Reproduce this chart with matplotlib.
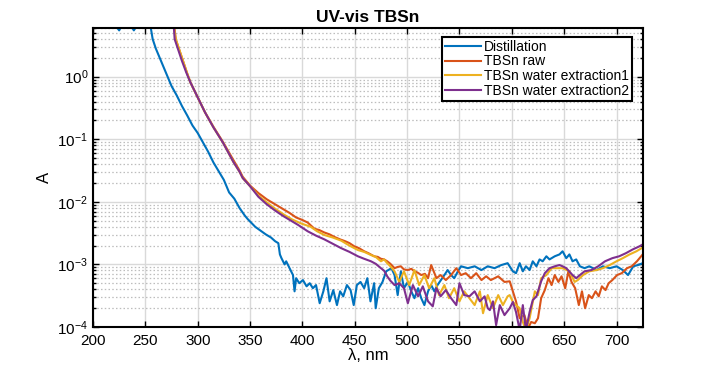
import numpy as np
import matplotlib
matplotlib.use('Agg')
import matplotlib.pyplot as plt
from matplotlib.ticker import LogLocator, NullFormatter, MultipleLocator

plt.rcParams['font.family'] = ['Liberation Sans', 'DejaVu Sans']
plt.rcParams['mathtext.fontset'] = 'custom'
plt.rcParams['mathtext.rm'] = 'Liberation Sans'
plt.rcParams['mathtext.it'] = 'Liberation Sans:italic'

# wavelength (nm) and log10(absorbance)
dist_nm = [220, 225, 230, 235, 239, 245, 250, 255, 257, 260, 264, 270, 275, 280, 285, 290, 295, 300,
           305, 310, 315, 320, 325, 330, 335, 340, 345, 348, 355, 360, 365, 370, 374, 377, 378.5, 380,
           383, 384.5, 387.7, 391, 392.5, 394, 397, 400.5, 404, 407, 410, 413, 416.5, 420, 423, 426,
           429.5, 433, 436, 439, 442.5, 446, 449, 452, 455.5, 459, 462, 465, 468.5, 470, 473, 476.5,
           480, 485, 488, 491, 494, 497, 500.7, 504, 507, 510.5, 513.5, 516.5, 520, 523, 526, 529,
           535.6, 538.7, 542, 545, 548.5, 551.5, 558, 564.5, 571, 577, 583.5, 590, 596, 601, 604,
           607.5, 610.5, 613.5, 617, 620, 623.5, 626.5, 629.5, 633, 636, 641, 645.5, 648.5, 652, 655,
           658, 661.5, 665, 669.5, 674, 681, 687, 693.5, 700, 706, 711, 716, 720.5, 725]
dist_log = [0.85, 0.74, 0.9, 0.85, 0.74, 0.9, 0.9, 0.8, 0.6, 0.45, 0.29, 0.05, -0.15, -0.30, -0.47,
            -0.62, -0.78, -0.90, -1.05, -1.20, -1.37, -1.51, -1.65, -1.85, -1.95, -2.10, -2.22, -2.28,
            -2.40, -2.46, -2.52, -2.57, -2.63, -2.66, -2.84, -2.90, -3.00, -2.95, -3.06, -3.17, -3.43,
            -3.22, -3.30, -3.25, -3.35, -3.30, -3.38, -3.33, -3.62, -3.43, -3.22, -3.59, -3.41, -3.65,
            -3.43, -3.51, -3.33, -3.41, -3.65, -3.33, -3.28, -3.38, -3.22, -3.59, -3.30, -3.70, -3.38,
            -3.28, -3.11, -3.06, -3.17, -3.49, -3.11, -3.38, -3.28, -3.43, -3.54, -3.38, -3.54, -3.65,
            -3.43, -3.33, -3.43, -3.33, -3.17, -3.09, -3.17, -3.22, -3.11, -3.03, -3.06, -3.03, -3.09,
            -3.03, -3.06, -3.01, -2.98, -3.11, -3.14, -2.98, -3.11, -3.03, -3.09, -2.95, -3.03, -2.92,
            -2.95, -2.87, -2.92, -2.87, -2.84, -2.79, -2.90, -2.84, -2.95, -2.92, -3.03, -3.06, -3.03,
            -3.09, -3.03, -3.06, -3.03, -3.09, -3.17, -3.03, -3.01, -2.98]

raw_nm = [270, 276, 278, 279, 282, 286, 290, 293, 300, 307, 315, 324, 334, 340, 343, 350, 358, 366,
          374, 382, 388, 394, 400, 405, 411.5, 416, 421, 426, 430.5, 436, 441, 445, 449.5, 454, 459,
          463, 468.5, 472, 475, 478, 481, 484, 488, 491, 494, 497, 500.7, 504, 507, 510, 513.5, 517,
          520, 523, 528, 532, 537, 542, 547, 551.5, 556, 561, 566, 571, 575.5, 580, 587, 593, 598,
          601, 604, 607.5, 612, 615.5, 618.5, 622, 625, 628, 631.5, 635, 638, 641, 644.5, 647.5,
          651, 654, 657, 660.5, 664, 667, 670, 673.5, 676.5, 680, 683, 686, 689.5, 692.5, 696,
          700.5, 705, 710, 714.5, 719.5, 725]
raw_log = [0.9, 0.85, 0.75, 0.6, 0.45, 0.25, 0.05, -0.09, -0.33, -0.57, -0.80, -1.04, -1.33, -1.50,
           -1.60, -1.74, -1.86, -1.96, -2.04, -2.12, -2.18, -2.25, -2.29, -2.33, -2.43, -2.45, -2.49,
           -2.52, -2.56, -2.60, -2.63, -2.66, -2.71, -2.74, -2.79, -2.82, -2.87, -2.88, -2.91, -2.92,
           -2.95, -2.99, -3.06, -3.04, -3.03, -3.08, -3.09, -3.07, -3.11, -3.13, -3.17, -3.15, -3.22,
           -3.01, -3.22, -3.17, -3.25, -3.17, -3.06, -3.17, -3.14, -3.22, -3.14, -3.25, -3.19, -3.25,
           -3.19, -3.28, -3.27, -3.43, -3.59, -3.86, -3.81, -4.02, -3.92, -3.94, -3.86, -3.54, -3.41,
           -3.22, -3.33, -3.17, -3.28, -3.19, -3.38, -3.11, -3.28, -3.38, -3.65, -3.43, -3.70, -3.49,
           -3.54, -3.43, -3.51, -3.35, -3.41, -3.30, -3.25, -3.17, -3.14, -3.06, -3.03, -2.95, -2.84]

ext1_nm = [270, 277, 279, 282, 286, 290, 293, 300, 307, 315, 324, 334, 340, 343, 350, 358, 366, 374,
           382, 390, 398, 408, 414, 421, 429, 437, 445, 453, 459, 465.5, 470, 475, 478, 481, 484, 488,
           492.5, 497, 502, 507, 511.5, 516.5, 521, 526, 530.5, 535.6, 540, 545, 550, 554.5, 559.5,
           564.5, 569.5, 572.5, 577, 582, 587, 591.5, 596, 598, 601, 604, 607.5, 610.5, 613.5, 617,
           622, 625, 628, 633, 638, 642.5, 648.5, 655, 660, 663, 668, 674, 681, 687, 693.5, 700, 706,
           712.5, 719, 725]
ext1_log = [0.9, 0.85, 0.6, 0.45, 0.25, 0.05, -0.09, -0.33, -0.57, -0.81, -1.05, -1.36, -1.52, -1.62,
            -1.75, -1.90, -2.01, -2.11, -2.20, -2.28, -2.34, -2.40, -2.47, -2.53, -2.57, -2.62, -2.70,
            -2.77, -2.80, -2.85, -2.88, -2.95, -2.92, -2.98, -3.03, -3.11, -3.28, -3.11, -3.33, -3.09,
            -3.33, -3.17, -3.38, -3.22, -3.49, -3.33, -3.54, -3.38, -3.59, -3.43, -3.54, -3.65, -3.43,
            -3.78, -3.49, -3.70, -3.49, -3.65, -3.51, -3.49, -3.60, -3.65, -3.70, -3.92, -4.05, -3.86,
            -3.43, -3.49, -3.22, -3.17, -3.06, -3.06, -3.06, -3.11, -3.28, -3.25, -3.17, -3.11, -3.09,
            -3.06, -3.01, -2.95, -2.90, -2.84, -2.79, -2.73]

ext2_nm = [270, 277, 278, 281, 285, 289, 293, 300, 307, 315, 324, 334, 340, 343, 350, 358, 366, 374,
           382, 390, 396, 405, 413, 421, 429, 437, 445, 453, 459, 465.5, 470, 475, 478, 481, 484, 488,
           492.5, 497, 500.7, 505.5, 510.5, 515, 520, 524.5, 528, 532, 537, 542, 547, 550, 554.5,
           559.5, 564.5, 569.5, 574, 577, 579, 582, 585, 588.5, 593, 598, 601, 604, 607.5, 610.5,
           613.5, 617, 620, 623.5, 628, 631.5, 636, 641, 645.5, 648.5, 652, 658, 661.5, 665, 669.5,
           676, 682.5, 689, 696, 702.5, 709, 715.5, 722, 725]
ext2_log = [0.9, 0.85, 0.6, 0.45, 0.25, 0.07, -0.09, -0.33, -0.57, -0.81, -1.05, -1.36, -1.52, -1.62,
            -1.75, -1.92, -2.04, -2.14, -2.23, -2.31, -2.37, -2.47, -2.54, -2.60, -2.67, -2.74, -2.80,
            -2.87, -2.91, -2.95, -2.99, -3.06, -3.10, -3.19, -3.26, -3.33, -3.30, -3.38, -3.62, -3.33,
            -3.51, -3.35, -3.59, -3.67, -3.38, -3.51, -3.41, -3.54, -3.65, -3.30, -3.49, -3.51, -3.43,
            -3.59, -3.51, -3.70, -3.73, -3.59, -3.97, -3.65, -3.81, -3.70, -3.60, -3.76, -4.05, -3.65,
            -4.05, -3.76, -3.57, -3.51, -3.27, -3.14, -3.06, -3.03, -3.01, -3.03, -3.06, -3.17, -3.22,
            -3.17, -3.11, -3.09, -3.03, -2.95, -2.90, -2.87, -2.82, -2.76, -2.71, -2.68]

labels = ['Distillation', 'TBSn raw', 'TBSn water extraction1', 'TBSn water extraction2']
colors = ['#0072BD', '#D95319', '#EDB120', '#7E2F8E']

fig = plt.figure(figsize=(7.11, 3.68), dpi=100)
ax = fig.add_axes([93 / 711, 1 - 327 / 368, (642.7 - 93) / 711, (327 - 28) / 368])

series = [(dist_nm, dist_log), (raw_nm, raw_log), (ext1_nm, ext1_log), (ext2_nm, ext2_log)]
for (nm, lg), lab, col in zip(series, labels, colors):
    ax.plot(nm, 10 ** np.array(lg), color=col, linewidth=1.5, label=lab)

ax.set_yscale('log')
ax.set_xlim(200, 725)
ax.set_ylim(1e-4, 6)
ax.xaxis.set_major_locator(MultipleLocator(50))
ax.yaxis.set_major_locator(LogLocator(base=10, numticks=10))
ax.yaxis.set_minor_locator(LogLocator(base=10, subs=np.arange(2, 10), numticks=20))
ax.yaxis.set_minor_formatter(NullFormatter())

# matlab style grid
ax.grid(True, which='major', color='#d9d9d9', linewidth=1.0, linestyle='-')
ax.grid(True, which='minor', axis='y', color='#bdbdbd', linewidth=0.9, linestyle=(0, (1.2, 1.8)))
ax.set_axisbelow(True)

ax.tick_params(which='both', direction='in', top=True, right=True, labelsize=11, width=1.0)
ax.tick_params(which='major', length=4)
ax.tick_params(which='minor', length=2.5)
ax.tick_params(axis='x', which='major', pad=5)
for s in ax.spines.values():
    s.set_linewidth(1.5)

ax.set_title('UV-vis TBSn', fontsize=12.5, fontweight='bold', pad=4)
ax.set_xlabel('λ, nm', fontsize=12, labelpad=0)
ax.set_ylabel('A', fontsize=12, labelpad=4)

leg = ax.legend(loc='upper right', bbox_to_anchor=(632 / 711, 1 - 37 / 368),
                bbox_transform=fig.transFigure, borderaxespad=0, fontsize=10,
                handlelength=2.6, handletextpad=0.2, labelspacing=0.05,
                borderpad=0.2, fancybox=False, framealpha=1, edgecolor='black')
leg.get_frame().set_linewidth(1.5)

fig.savefig('out.png', dpi=100)
